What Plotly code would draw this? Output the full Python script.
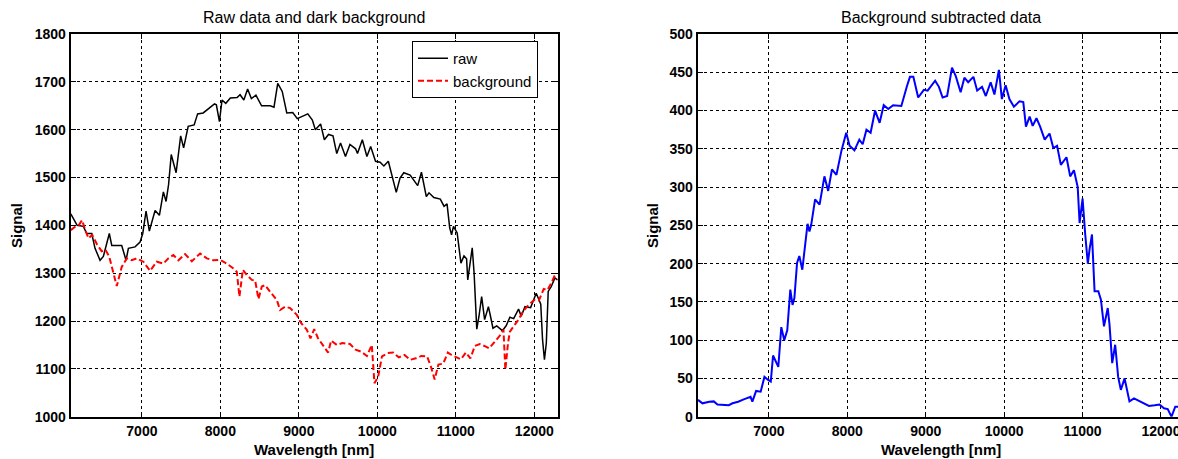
import plotly.graph_objects as go

# ---------------- data ----------------
wl_raw = [6094, 6140, 6175, 6254, 6297, 6361, 6403, 6467, 6509, 6585, 6616, 6743, 6798, 6828,
          6913, 6977, 7011, 7053, 7095, 7168, 7223, 7274, 7308, 7340, 7374, 7436, 7494, 7532,
          7590, 7666, 7710, 7781, 7853, 7925, 7949, 7988, 8021, 8069, 8127, 8213, 8251, 8299,
          8347, 8395, 8453, 8525, 8635, 8683, 8731, 8788, 8846, 8922, 8980, 9114, 9172, 9210,
          9277, 9325, 9378, 9435, 9483, 9531, 9594, 9651, 9723, 9747, 9809, 9867, 9915, 9977,
          10035, 10083, 10140, 10188, 10241, 10289, 10337, 10418, 10466, 10514, 10562, 10624,
          10658, 10720, 10802, 10850, 10888, 10922, 10946, 10970, 11017, 11065, 11104, 11137,
          11152, 11209, 11233, 11248, 11267, 11295, 11329, 11367, 11415, 11439, 11473, 11521,
          11593, 11641, 11689, 11737, 11799, 11833, 11881, 11953, 12000, 12024, 12058, 12082,
          12105, 12129, 12153, 12177, 12215, 12263, 12297]
raw = [1424, 1412, 1400, 1398, 1383, 1383, 1352, 1327, 1335, 1383, 1358, 1358, 1327, 1352,
       1355, 1365, 1383, 1430, 1388, 1431, 1421, 1470, 1450, 1485, 1548, 1510, 1587, 1562,
       1607, 1610, 1633, 1635, 1645, 1654, 1652, 1617, 1662, 1655, 1666, 1667, 1673, 1662,
       1685, 1665, 1672, 1650, 1650, 1647, 1697, 1680, 1635, 1636, 1623, 1633, 1620, 1600,
       1612, 1579, 1590, 1587, 1550, 1572, 1544, 1569, 1560, 1550, 1579, 1544, 1565, 1534,
       1532, 1524, 1534, 1503, 1469, 1499, 1510, 1505, 1495, 1483, 1511, 1460,
       1468, 1458, 1455, 1440, 1445, 1395, 1380, 1398, 1384, 1321, 1336, 1330,
       1286, 1353, 1300, 1230, 1183, 1210, 1251, 1203, 1230, 1212, 1185, 1190,
       1180, 1190, 1208, 1205, 1225, 1210, 1230, 1228, 1248, 1258, 1245, 1235,
       1161, 1119, 1154, 1262, 1272, 1290, 1286]

wl_bg = [6094, 6148, 6199, 6238, 6271, 6319, 6367, 6429, 6487, 6535, 6583, 6631, 6680, 6743,
         6807, 6871, 6934, 7019, 7104, 7190, 7274, 7338, 7401, 7465, 7550, 7636, 7742, 7827,
         7911, 7997, 8082, 8166, 8209, 8243, 8286, 8337, 8401, 8443, 8485, 8528, 8570, 8634,
         8719, 8761, 8825, 8889, 8974, 9028, 9100, 9148, 9196, 9244, 9316, 9373, 9411, 9483,
         9555, 9651, 9723, 9795, 9867, 9929, 9963, 10011, 10059, 10131, 10202, 10274, 10346,
         10418, 10490, 10562, 10634, 10682, 10730, 10778, 10840, 10898, 10946, 11017, 11065,
         11128, 11185, 11243, 11305, 11377, 11425, 11497, 11569, 11607, 11631, 11665, 11689,
         11737, 11799, 11856, 11928, 12000, 12058, 12120, 12168, 12216, 12254, 12297]
bg = [1390, 1397, 1401, 1411, 1394, 1373, 1380, 1360, 1346, 1349, 1335, 1305, 1273, 1313,
      1331, 1327, 1331, 1324, 1305, 1324, 1320, 1331, 1338, 1327, 1340, 1325, 1341, 1331,
      1327, 1328, 1320, 1310, 1303, 1251, 1307, 1296, 1286, 1285, 1246, 1272, 1275, 1261,
      1244, 1223, 1230, 1227, 1213, 1196, 1182, 1164, 1183, 1164, 1147, 1134, 1159, 1150,
      1154, 1152, 1140, 1136, 1127, 1150, 1070, 1084, 1126, 1133, 1134, 1124, 1129,
      1119, 1122, 1127, 1126, 1105, 1078, 1109, 1111, 1134, 1129, 1124, 1120,
      1134, 1122, 1148, 1152, 1147, 1143, 1157, 1171, 1182, 1098, 1154, 1178,
      1189, 1203, 1220, 1234, 1244, 1243, 1267, 1265, 1279, 1293, 1286]

wl_sub = [6096, 6153, 6239, 6297, 6344, 6488, 6536, 6608, 6679, 6727, 6766, 6789, 6837, 6895,
          6943, 6990, 7024, 7053, 7091, 7120, 7158, 7196, 7234, 7273, 7301, 7325, 7359, 7388,
          7426, 7469, 7493, 7517, 7540, 7589, 7646, 7708, 7756, 7804, 7861, 7924, 7986, 8029,
          8091, 8153, 8196, 8244, 8297, 8354, 8412, 8464, 8522, 8584, 8689, 8761, 8799, 8842,
          8904, 8976, 9024, 9120, 9168, 9215, 9273, 9335, 9383, 9445, 9493, 9541, 9608, 9656,
          9718, 9766, 9828, 9876, 9933, 9971, 10019, 10067, 10124, 10196, 10244, 10278, 10325,
          10364, 10412, 10459, 10517, 10579, 10627, 10675, 10723, 10795, 10842, 10890, 10938,
          10962, 11000, 11034, 11067, 11091, 11120, 11153, 11201, 11234, 11273, 11321, 11344,
          11378, 11416, 11454, 11488, 11536, 11598, 11656, 11728, 11776, 11847, 11919, 11981,
          12038, 12086, 12134, 12182, 12220]
sub = [22, 17.5, 19.6, 20, 16, 15, 17.5, 19.6, 22.7, 25, 26, 19.6, 33.6, 32.7,
       52, 48, 46, 80, 70, 65, 117, 100, 113, 166, 146, 155, 201, 210,
       192, 236, 252, 242, 251, 284, 277, 314, 295, 323, 316, 347, 371, 354,
       348, 362, 356, 375, 371, 400, 384, 407, 402, 407, 406, 432, 444, 444,
       417, 427, 426, 439, 431, 417, 419, 456, 445, 424, 443, 437, 444, 426,
       431, 419, 437, 421, 453, 415, 433, 415, 405, 412, 411, 379, 392,
       380, 390, 379, 362, 370, 351, 354, 329, 339, 314, 322, 300,
       253, 285, 238, 200, 220, 238, 164, 164, 153, 118, 142, 120,
       70, 94, 52, 35, 50, 20, 24, 20, 18, 14, 15, 16,
       11, 10, 0, 13, 13]

x_ticks = [7000, 8000, 9000, 10000, 11000, 12000]
x_ticktext = ["7000", "8000", "9000", "10000", "11000", "12000"]
y1_ticks = [1000, 1100, 1200, 1300, 1400, 1500, 1600, 1700, 1800]
y1_ticktext = ["1000", "1100", "1200", "1300", "1400", "1500", "1600", "1700", "1800"]
y2_ticks = [0, 50, 100, 150, 200, 250, 300, 350, 400, 450, 500]
y2_ticktext = ["0", "50", "100", "150", "200", "250", "300", "350", "400", "450", "500"]

titles = ["Raw data and dark background", "Background subtracted data"]
x_label = "Wavelength [nm]"
y_label = "Signal"

# ---------------- layout helpers ----------------
W, H = 1178, 459
FONT = "Arial, Liberation Sans, sans-serif"


def px(x):
    return x / W


def py(y):
    return 1 - y / H


L1, R1 = 70.7, 557.7
L2, R2 = 697.7, 1178
T, B = 34, 416.7

fig = go.Figure()
fig.add_trace(go.Scatter(x=wl_raw, y=raw, mode="lines", name="raw",
                         line=dict(color="black", width=1.5), xaxis="x", yaxis="y"))
fig.add_trace(go.Scatter(x=wl_bg, y=bg, mode="lines", name="background",
                         line=dict(color="#ff0000", width=2, dash="6px,3px"), xaxis="x", yaxis="y"))
fig.add_trace(go.Scatter(x=wl_sub, y=sub, mode="lines", name="subtracted", showlegend=False,
                         line=dict(color="#0000ff", width=2), xaxis="x2", yaxis="y2"))

ax = dict(showline=True, linecolor="black", linewidth=2, mirror="ticks",
          ticks="inside", ticklen=5, tickwidth=1, tickcolor="black",
          showgrid=True, gridcolor="black", gridwidth=1, griddash="3px,3px",
          zeroline=False, automargin=False, tickmode="array",
          ticklabeloverflow="allow",
          tickfont=dict(family=FONT, size=14, color="black", weight="bold"))

fig.update_layout(
    width=W, height=H, margin=dict(l=0, r=0, t=0, b=0),
    paper_bgcolor="white", plot_bgcolor="white",
    xaxis=dict(ax, domain=[px(L1), px(R1)], range=[6093, 12298], tickvals=x_ticks,
               ticktext=x_ticktext, anchor="y"),
    yaxis=dict(ax, domain=[py(B), py(T)], range=[1000, 1800], tickvals=y1_ticks,
               ticktext=y1_ticktext, anchor="x"),
    xaxis2=dict(ax, domain=[px(L2), 1.0], range=[6092, 12217], tickvals=x_ticks,
                ticktext=x_ticktext, anchor="y2"),
    yaxis2=dict(ax, domain=[py(B), py(T)], range=[0, 500], tickvals=y2_ticks,
                ticktext=y2_ticktext, anchor="x2"),
    showlegend=True,
    legend=dict(x=px(412), y=py(41), xanchor="left", yanchor="top",
                bgcolor="white", bordercolor="black", borderwidth=1,
                font=dict(family=FONT, size=15, color="black"),
                tracegroupgap=0),
)

ann_font = dict(family=FONT, color="black")
annotations = [
    dict(text=titles[0], x=px((L1 + R1) / 2), y=py(18), font=dict(ann_font, size=16)),
    dict(text=titles[1], x=px(941), y=py(18), font=dict(ann_font, size=16)),
    dict(text=x_label, x=px((L1 + R1) / 2), y=py(449), font=dict(ann_font, size=15, weight="bold")),
    dict(text=x_label, x=px(941), y=py(449), font=dict(ann_font, size=15, weight="bold")),
    dict(text=y_label, x=px(17), y=py(226), textangle=-90, font=dict(ann_font, size=15, weight="bold")),
    dict(text=y_label, x=px(653), y=py(226), textangle=-90, font=dict(ann_font, size=15, weight="bold")),
]
for a in annotations:
    a.update(xref="paper", yref="paper", showarrow=False, xanchor="center", yanchor="middle")
fig.update_layout(annotations=annotations)

fig.write_html("out.html")
